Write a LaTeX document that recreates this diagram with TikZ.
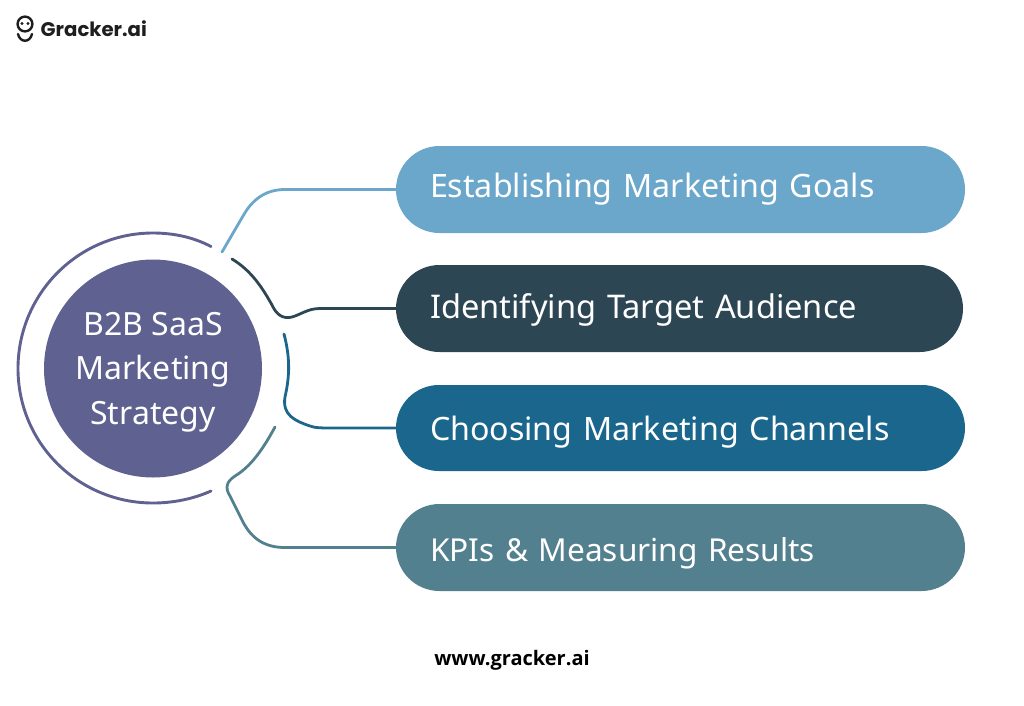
\documentclass[tikz,border=0pt]{standalone}
\usepackage{fontspec}
\setmainfont{Noto Sans}
\newfontfamily\logofont{Poppins}
\newfontfamily\urlfont{Open Sans}
\usetikzlibrary{shapes.misc}
\definecolor{cone}{HTML}{6BA6CB}
\definecolor{ctwo}{HTML}{2C4653}
\definecolor{cthree}{HTML}{1B668D}
\definecolor{cfour}{HTML}{53808F}
\definecolor{chub}{HTML}{5F6190}
\definecolor{cink}{HTML}{1E1E1E}
\tikzset{
  x=1pt,y=-1pt,
  pill/.style={rounded rectangle,minimum width=569pt,minimum height=87pt,inner sep=0pt,text=white,font=\fontsize{32.2}{36}\selectfont,text width=501pt,text depth=8pt,text height=24pt,align=left,anchor=center},
  link/.style={line width=2.8pt,line cap=round},
  ring/.style={line width=2.9pt,line cap=round,draw=chub},
}
\begin{document}
\begin{tikzpicture}
\useasboundingbox (0,0) rectangle (1024,705);
% pills
\node[pill,fill=cone] (p1) at (680.5,189.5) {Establishing Marketing Goals};
\node[pill,fill=ctwo,minimum width=567pt,text width=499pt,text height=28pt,font=\fontsize{32.6}{36}\selectfont] (p2) at (679.5,308.5) {Identifying Target Audience};
\node[pill,fill=cthree,minimum height=86pt,text height=32pt] (p3) at (680.5,428) {Choosing Marketing Channels};
\node[pill,fill=cfour,text height=36pt,font=\fontsize{31.6}{36}\selectfont] (p4) at (680.5,547.5) {KPIs \& Measuring Results};
% hub
\node[circle,fill=chub,minimum size=218pt,inner sep=0pt,text=white,align=center,font=\fontsize{32}{44.5}\selectfont] (hub) at (153,368.5) {\rule{0pt}{30pt}B2B SaaS\\Marketing\\Strategy};
% ring
\coordinate (r1) at (211,246.5);
\coordinate (r2) at (211,491);
\draw[ring] (r1) .. controls (193,237) and (173,233) .. (153,233)
  .. controls (78,233) and (18,294) .. (18,368.5)
  .. controls (18,443) and (78,503) .. (153,503)
  .. controls (173,503) and (193,499) .. (r2);
% connectors
\coordinate (a1) at (222,252);
\coordinate (a2) at (232,259);
\coordinate (a3) at (284,334);
\coordinate (a4) at (275,427);
\draw[link,draw=cone] (a1) -- (243,216) .. controls (252,200) and (265,189.5) .. (285,189.5) -- (p1.west);
\draw[link,draw=ctwo] (a2) .. controls (252,271) and (263,289) .. (272,305) .. controls (277,316) and (284,319) .. (292,317) .. controls (302,314) and (308,308.5) .. (320,308.5) -- (p2.west);
\draw[link,draw=cthree] (a3) .. controls (290,357) and (290,375) .. (285,397) .. controls (282,415) and (295,421) .. (310,426) .. controls (315,428) and (322,428) .. (330,428) -- (p3.west);
\draw[link,draw=cfour] (a4) .. controls (262,451) and (250,467) .. (235,476) .. controls (226,482) and (225,488) .. (230,496) -- (243,522) .. controls (252,539) and (265,547.5) .. (285,547.5) -- (p4.west);
% logo
\node[font=\logofont\bfseries\fontsize{19.7}{24}\selectfont,text=cink,anchor=west,inner sep=0pt] (logo) at (40.5,28.5) {Gracker.ai};
\coordinate (face) at (25,24);
\draw[cink,line width=2.4pt] (face) circle[radius=7.4pt];
\fill[cink] (22,23.5) circle[radius=1.6pt] (28,23.5) circle[radius=1.6pt];
\draw[cink,line width=2.4pt,line cap=round] (18,34) .. controls (20,43) and (30,43) .. (32,34);
% url
\node[font=\urlfont\bfseries\fontsize{20}{24}\selectfont,text=black,inner sep=0pt] (url) at (512,660.5) {www.gracker.ai};
\end{tikzpicture}
\end{document}
